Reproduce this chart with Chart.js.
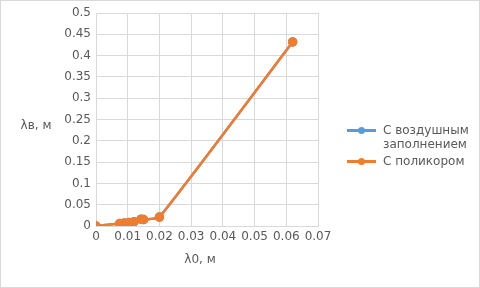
<!DOCTYPE html>
<html>
<head>
<meta charset="utf-8">
<script src="https://cdn.jsdelivr.net/npm/chart.js@4"></script>
<style>
  body { margin: 0; background: #fff; }
  #wrap { position: relative; width: 480px; height: 288px; box-sizing: border-box; border: 1px solid #d9d9d9; }
  #wrap canvas { position: absolute; left: -1px; top: -1px; }
  .legend { position: absolute; left: 346px; top: 122px; font: 12px "DejaVu Sans", sans-serif; color: #595959; }
  .item { position: relative; padding-left: 36px; line-height: 14px; margin-bottom: 3px; }
  .item .ln { position: absolute; left: 0; top: 6px; width: 29px; height: 3px; }
  .item .dot { position: absolute; left: 11px; top: 4px; width: 7px; height: 7px; border-radius: 50%; }
</style>
</head>
<body>
<div id="wrap">
  <canvas id="myChart" width="480" height="288"></canvas>
  <div class="legend">
    <div class="item"><span class="ln" style="background:#5b9bd5"></span><span class="dot" style="background:#5b9bd5"></span>С воздушным<br>заполнением</div>
    <div class="item"><span class="ln" style="background:#ed7d31"></span><span class="dot" style="background:#ed7d31"></span>С поликором</div>
  </div>
</div>
<script>
const seriesNames = ['С воздушным заполнением', 'С поликором'];
const lambda0 = [0, 0.0075, 0.009, 0.0105, 0.012, 0.0142, 0.015, 0.02, 0.062];
const airValues = [0, 0.006, 0.007, 0.008, 0.01, 0.016, 0.015, 0.021, 0.432];
const polycorValues = [0, 0.006, 0.007, 0.008, 0.01, 0.016, 0.015, 0.021, 0.432];
const xTicks = ['0', '0.01', '0.02', '0.03', '0.04', '0.05', '0.06', '0.07'];
const yTicks = ['0', '0.05', '0.1', '0.15', '0.2', '0.25', '0.3', '0.35', '0.4', '0.45', '0.5'];
const xTitle = 'λ0, м';
const yTitle = 'λв, м';

const toPoints = (xs, ys) => xs.map((x, i) => ({ x: x, y: ys[i] }));

const axisTitles = {
    id: 'axisTitles',
    afterDraw(chart) {
        const ctx = chart.ctx;
        const area = chart.chartArea;
        ctx.save();
        ctx.fillStyle = '#595959';
        ctx.font = '12px "DejaVu Sans"';
        ctx.textAlign = 'center';
        ctx.textBaseline = 'middle';
        ctx.fillText(xTitle, 200, 260);
        ctx.fillText(yTitle, 36, (area.top + area.bottom) / 2 + 6);
        ctx.restore();
    }
};

const newChart = document.getElementById('myChart').getContext('2d');
const myChart = new Chart(newChart, {
    type: 'scatter',
    data: {
        datasets: [{
            label: seriesNames[0],
            data: toPoints(lambda0, airValues),
            order: 2,
            showLine: true,
            tension: 0.15,
            borderColor: '#5b9bd5',
            backgroundColor: '#5b9bd5',
            borderWidth: 2.5,
            pointRadius: 3.5
        }, {
            label: seriesNames[1],
            data: toPoints(lambda0, polycorValues),
            order: 1,
            showLine: true,
            tension: 0.15,
            borderColor: '#ed7d31',
            backgroundColor: '#ed7d31',
            borderWidth: 2.5,
            pointRadius: 3.5
        }]
    },
    options: {
        responsive: false,
        animation: false,
        layout: { padding: { left: 0, right: 162, top: 13, bottom: 0 } },
        plugins: { legend: { display: false }, tooltip: { enabled: false } },
        scales: {
            x: {
                type: 'linear',
                min: 0,
                max: 0.07,
                afterFit: function(scale) { scale.height = 62; },
                afterBuildTicks: function(scale) {
                    scale.ticks = xTicks.map(t => ({ value: parseFloat(t) }));
                },
                grid: { color: '#d9d9d9', drawTicks: false },
                border: { color: '#d9d9d9' },
                ticks: {
                    color: '#595959',
                    font: { family: 'DejaVu Sans', size: 12 },
                    padding: 4,
                    maxRotation: 0,
                    callback: function(value, index) { return xTicks[index]; }
                }
            },
            y: {
                min: 0,
                max: 0.5,
                afterFit: function(scale) { scale.width = 96; },
                afterBuildTicks: function(scale) {
                    scale.ticks = yTicks.map(t => ({ value: parseFloat(t) }));
                },
                grid: { color: '#d9d9d9', drawTicks: false },
                border: { color: '#d9d9d9' },
                ticks: {
                    color: '#595959',
                    font: { family: 'DejaVu Sans', size: 12 },
                    padding: 5,
                    callback: function(value, index) { return yTicks[index]; }
                }
            }
        }
    },
    plugins: [axisTitles]
});
</script>
</body>
</html>
